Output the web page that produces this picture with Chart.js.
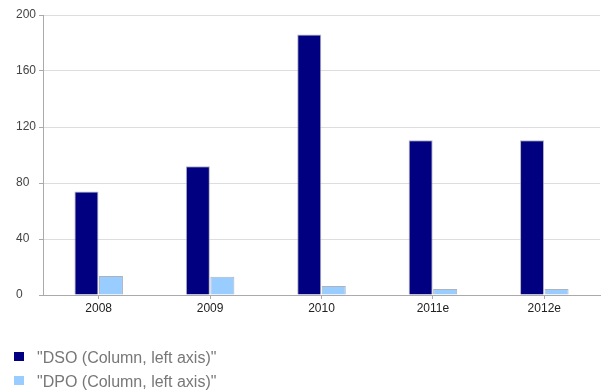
<!DOCTYPE html>
<html>
<head>
<meta charset="utf-8">
<script src="https://cdn.jsdelivr.net/npm/chart.js@4/dist/chart.umd.min.js"></script>
<style>
  html, body { margin: 0; padding: 0; background: #fff; }
  #wrap { position: relative; width: 602px; height: 391px; overflow: hidden; }
  #chart { position: absolute; left: 0; top: 0; }
  #legend { position: absolute; left: 14px; top: 346px; font-family: "Liberation Sans", Arial, sans-serif; font-size: 16px; color: #777; }
  .item { position: relative; height: 24px; line-height: 24px; white-space: nowrap; }
  .box { position: absolute; left: 0; top: 6px; width: 10px; height: 9px; }
  .label { position: absolute; left: 23px; top: 0; }
</style>
</head>
<body>
<div id="wrap">
  <canvas id="chart" width="602" height="391"></canvas>
  <div id="legend"></div>
</div>
<script>
// Days sales outstanding vs days payables outstanding, by year
const categories = ["2008", "2009", "2010", "2011e", "2012e"];
const dsoValues = [74, 92, 186, 110.5, 110.5];
const dpoValues = [13.5, 13, 6.5, 4.3, 4.3];
const yTicks = [0, 40, 80, 120, 160, 200];
const seriesNames = ['"DSO (Column, left axis)"', '"DPO (Column, left axis)"'];
const seriesColors = ["#000080", "#99ccff"];

const font = { family: '"Liberation Sans", Arial, sans-serif', size: 12 };

const chart = new Chart(document.getElementById("chart"), {
  type: "bar",
  data: {
    labels: categories,
    datasets: [
      { label: seriesNames[0], data: dsoValues, backgroundColor: seriesColors[0],
        borderColor: "rgba(160,160,170,0.8)", borderWidth: 1 },
      { label: seriesNames[1], data: dpoValues, backgroundColor: seriesColors[1],
        borderColor: "rgba(150,160,175,0.8)", borderWidth: 1 }
    ]
  },
  options: {
    responsive: false,
    animation: false,
    datasets: { bar: { categoryPercentage: 0.44, barPercentage: 0.98 } },
    layout: { padding: { left: 16, right: 2, top: 15, bottom: 76 } },
    plugins: { legend: { display: false }, tooltip: { enabled: false } },
    scales: {
      x: {
        grid: { display: true, offset: false, drawOnChartArea: false, drawTicks: true,
                tickLength: 4, color: "#aaa" },
        border: { color: "#aaa", width: 1 },
        ticks: { color: "#222", font: font, padding: 2, maxRotation: 0 },
        afterFit: (s) => { s.height = 20; }
      },
      y: {
        min: 0, max: 200,
        afterBuildTicks: (s) => { s.ticks = yTicks.map(v => ({ value: v })); },
        grid: { color: "#ddd", tickLength: 4, tickColor: "#aaa" },
        border: { color: "#aaa", width: 1 },
        ticks: { color: "#444", font: font, crossAlign: "far", padding: 4 },
        afterFit: (s) => { s.width = 27; }
      }
    }
  }
});

// Vertical legend under the plot
const legend = document.getElementById("legend");
chart.data.datasets.forEach((ds) => {
  const item = document.createElement("div");
  item.className = "item";
  const box = document.createElement("span");
  box.className = "box";
  box.style.background = ds.backgroundColor;
  const label = document.createElement("span");
  label.className = "label";
  label.textContent = ds.label;
  item.appendChild(box);
  item.appendChild(label);
  legend.appendChild(item);
});
</script>
</body>
</html>
